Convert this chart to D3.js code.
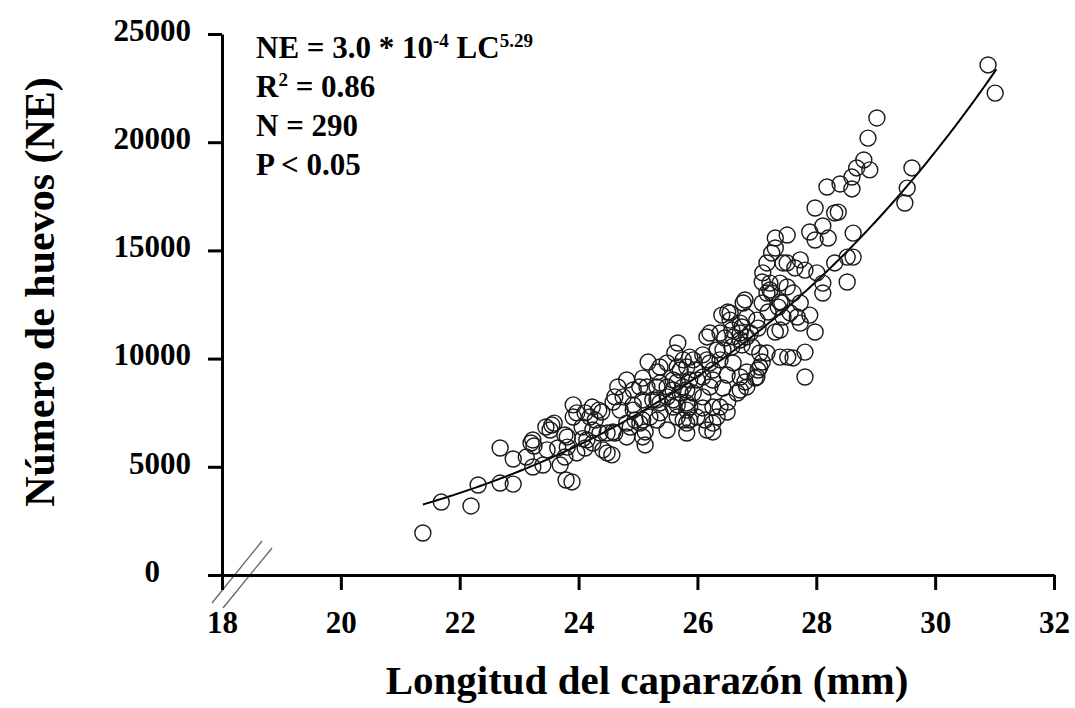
<!DOCTYPE html>
<html><head><meta charset="utf-8">
<script src="https://cdn.jsdelivr.net/npm/d3@7"></script>
<style>
body{margin:0;background:#fff}
text{font-family:"Liberation Serif","Times New Roman",serif;font-weight:bold;fill:#000}
</style>
</head><body>
<svg id="chart" width="1075" height="708"></svg>
<script>
// ---- data ----
const xTickValues = [18, 20, 22, 24, 26, 28, 30, 32];
const yTickValues = [0, 5000, 10000, 15000, 20000, 25000];
const xTitle = "Longitud del caparazón (mm)";
const yTitle = "Número de huevos (NE)";
const fitA = 3.0e-4;      // NE = a * LC^b
const fitB = 5.29;
const fitRange = [21.38, 31.05];
const statLines = ["R² = 0.86", "N = 290", "P < 0.05"];

const lcValues = [
21.38,21.69,22.19,22.31,22.68,22.90,22.68,22.90,23.20,23.25,23.12,23.23,23.40,23.45,23.59,23.47,23.65,23.69,23.81,23.79,23.89,23.55,23.77,
23.91,23.91,24.11,24.06,24.23,24.34,24.28,24.14,24.11,24.48,24.56,24.36,23.97,24.41,24.07,24.24,23.77,24.39,
24.58,24.61,24.66,24.81,24.92,25.03,25.17,25.32,24.70,24.92,24.87,25.08,25.12,25.12,25.25,25.37,25.49,25.08,25.49,25.62,25.67,
24.61,24.95,25.20,24.58,24.75,24.92,25.08,25.32,25.49,25.32,25.59,25.66,25.82,25.93,25.99,25.76,25.59,25.82,25.66,25.82,
26.09,26.26,26.16,26.33,26.38,26.21,26.41,26.55,26.60,26.72,26.60,26.67,26.50,26.26,26.13,26.26,26.77,
27.25,27.17,27.44,27.10,27.09,27.22,27.39,27.17,26.80,27.09,27.39,27.19,27.44,26.51,26.83,27.00,26.58,26.75,27.02,27.31,
26.46,26.83,26.58,26.75,26.92,26.43,27.17,27.39,27.52,27.09,27.02,26.97,26.80,26.72,26.51,26.38,26.33,26.09,26.43,26.83,
25.76,26.09,26.21,25.96,25.71,25.66,25.87,26.09,26.26,25.71,25.93,26.21,25.66,25.87,25.76,25.99,
29.02,28.87,28.80,28.68,28.90,28.60,28.40,28.18,28.60,27.98,28.31,28.37,27.51,27.89,28.11,27.98,28.20,28.62,27.31,27.31,
27.73,27.51,27.64,27.81,28.01,28.31,28.52,28.62,28.11,28.11,28.52,27.61,27.51,27.42,27.73,27.68,27.89,27.56,27.73,27.98,
27.39,27.81,27.61,27.81,29.61,29.53,29.49,30.89,31.01,27.25,27.36,26.72,27.05,25.87,25.37,
27.22,26.55,26.72,26.89,26.16,26.38,27.05,27.00,26.72,26.50,26.83,26.26,25.82,25.59,25.37,25.15,25.37,25.59,25.82,25.87,
25.32,25.03,24.81,24.19,23.97,23.52,23.23,24.48,24.81,25.08,25.49,25.82,26.16,23.81,24.24
];
const neValues = [
1940,3370,3190,4160,5870,5360,4250,4200,6100,5960,5450,4990,5080,6840,7020,5780,5870,5080,5910,4390,4300,6930,6470,
7860,7300,7490,6840,7760,7620,7160,6240,5870,5640,5550,6560,5640,5780,6300,6700,5450,7530,
6610,8230,8690,9010,8550,8690,9840,9380,7620,7620,6840,7160,6610,6010,8090,7490,8230,9100,9800,10260,10720,
6560,7160,7300,7990,8230,7860,8090,8090,8690,8690,9010,9610,9610,9940,9010,8690,8090,7620,7300,7020,
8230,9010,9940,10400,11180,11180,12010,12110,11000,10860,9800,8410,7530,7020,7160,6610,12570,
14880,14420,14420,13960,13540,13490,13490,13030,12710,12570,12620,12150,11920,12150,11920,11780,11320,11460,11410,11230,
10950,11000,10540,10630,10540,10400,10260,10070,10070,9840,9470,9100,8920,8550,7990,7760,7300,7720,8640,9380,
9940,10170,9800,9470,9470,8920,9010,9150,9470,8410,8410,8690,7860,7760,7160,7300,
21120,20190,19180,18810,18720,18390,18070,17930,17840,16960,16730,16770,15710,15850,16130,15480,15570,15800,15570,15110,
14560,14420,14190,14090,13960,14420,14690,14690,13490,13030,13540,13030,13310,12570,12570,11920,12010,12110,11640,11230,
11320,10300,10030,9150,18810,17880,17190,23570,22270,13030,12380,11180,10260,10070,9610,
13170,11780,11640,11180,11000,9940,9610,9150,9150,9240,8690,7760,8550,8550,8870,8690,7950,7760,7950,7160,
7160,7020,7020,7300,7490,6700,6240,6560,6380,6380,6700,6560,6700,6380,6100
];

// ---- drawing ----
const svg = d3.select("#chart");
const x = d3.scaleLinear().domain([18, 32]).range([222, 1054]);
const y = d3.scaleLinear().domain([0, 25000]).range([575, 34]);

// axis-break marks
const x0 = x(18), y0 = y(0);
svg.append("line").attr("x1", x0 - 10).attr("y1", y0 + 28).attr("x2", x0 + 40).attr("y2", y0 - 34)
  .attr("stroke", "#666").attr("stroke-width", 1.3);
svg.append("line").attr("x1", x0 + 1).attr("y1", y0 + 33).attr("x2", x0 + 50).attr("y2", y0 - 27)
  .attr("stroke", "#666").attr("stroke-width", 1.3);

const gx = svg.append("g").attr("transform", `translate(0,${y0})`)
  .call(d3.axisBottom(x).tickValues(xTickValues).tickSize(15).tickSizeOuter(0).tickPadding(21).tickFormat(d3.format("d")));
const gy = svg.append("g").attr("transform", `translate(${x0},0)`)
  .call(d3.axisLeft(y).tickValues(yTickValues).tickSize(14).tickSizeOuter(0).tickPadding(17).tickFormat(d3.format("d")));
[gx, gy].forEach(g => {
  g.selectAll("path,line").attr("stroke", "#000").attr("stroke-width", 3);
  g.selectAll("text").attr("font-size", 31).attr("font-family", "Liberation Serif").attr("font-weight", "bold").attr("fill", "#000");
});
gy.selectAll("text").attr("dy", "0.2em");
gy.selectAll(".tick").filter(d => d === 0).select("text").attr("dx", -31);

// fitted curve
const curvePts = d3.range(fitRange[0], fitRange[1] + 1e-9, 0.05).map(v => [v, fitA * Math.pow(v, fitB)]);
svg.append("path").datum(curvePts)
  .attr("d", d3.line().x(d => x(d[0])).y(d => y(d[1])).curve(d3.curveLinear))
  .attr("fill", "none").attr("stroke", "#000").attr("stroke-width", 2);

// points
svg.append("g").selectAll("circle").data(d3.range(lcValues.length)).join("circle")
  .attr("cx", i => x(lcValues[i])).attr("cy", i => y(neValues[i])).attr("r", 8)
  .attr("fill", "none").attr("stroke", "#1a1a1a").attr("stroke-width", 1.4);

// annotation
const ann = svg.append("g").attr("font-size", 31);
const t1 = ann.append("text").attr("x", 256).attr("y", 58);
t1.append("tspan").text("NE = 3.0 * 10");
t1.append("tspan").attr("dy", -11).attr("font-size", 19).text("-4");
t1.append("tspan").attr("dy", 11).text(" LC");
t1.append("tspan").attr("dy", -11).attr("font-size", 19).text("5.29");
const t2 = ann.append("text").attr("x", 256).attr("y", 97);
t2.append("tspan").text("R");
t2.append("tspan").attr("dy", -11).attr("font-size", 19).text("2");
t2.append("tspan").attr("dy", 11).text(" = 0.86");
ann.append("text").attr("x", 256).attr("y", 136).text(statLines[1]);
ann.append("text").attr("x", 256).attr("y", 175).text(statLines[2]);

// axis titles
svg.append("text").attr("x", 647).attr("y", 694).attr("text-anchor", "middle")
  .attr("font-size", 41).text(xTitle);
svg.append("text").attr("transform", "translate(54,292) rotate(-90)").attr("text-anchor", "middle")
  .attr("font-size", 42).text(yTitle);
</script>
</body></html>
